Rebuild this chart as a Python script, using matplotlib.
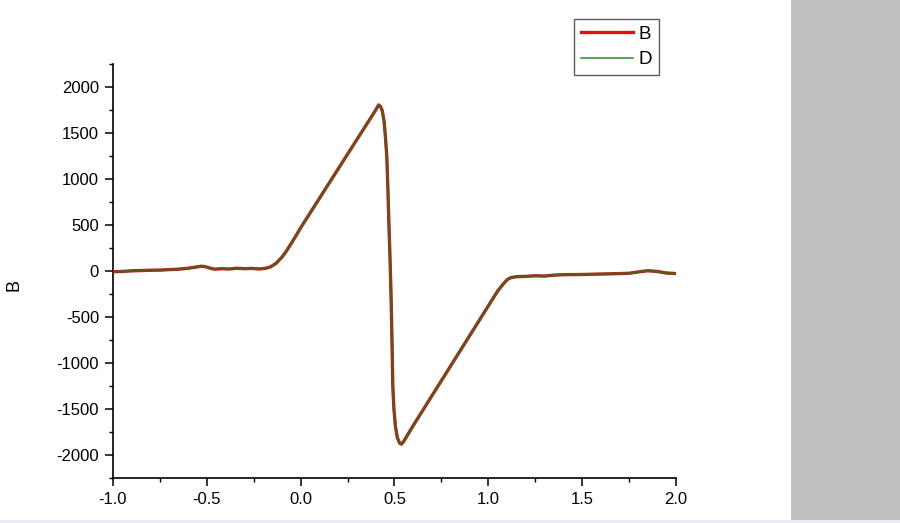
import matplotlib
matplotlib.use("Agg")
import matplotlib.pyplot as plt
from matplotlib.lines import Line2D
from matplotlib.patches import Rectangle
from matplotlib.ticker import MultipleLocator

plt.rcParams['font.family'] = ['Liberation Sans', 'DejaVu Sans']

x_values = [-1.00, -0.95, -0.90, -0.85, -0.80, -0.75, -0.70, -0.65, -0.60, -0.56,
            -0.53, -0.51, -0.49, -0.46, -0.42, -0.38, -0.34, -0.30, -0.26, -0.22,
            -0.19, -0.16, -0.13, -0.10, -0.08, -0.05, -0.02, 0.00, 0.05, 0.10,
            0.15, 0.20, 0.25, 0.30, 0.35, 0.38, 0.40, 0.415, 0.425, 0.435,
            0.445, 0.452, 0.459, 0.465, 0.470, 0.476, 0.482, 0.487, 0.491, 0.497,
            0.505, 0.515, 0.527, 0.537, 0.548, 0.56, 0.60, 0.65, 0.70, 0.75,
            0.80, 0.85, 0.90, 0.95, 1.00, 1.05, 1.08, 1.10, 1.12, 1.15,
            1.20, 1.25, 1.30, 1.35, 1.40, 1.50, 1.60, 1.70, 1.75, 1.80,
            1.85, 1.90, 1.95, 2.00]

b_values = [-8, -5, 2, 5, 8, 10, 15, 20, 30, 42,
            52, 48, 35, 20, 25, 22, 30, 25, 28, 22,
            28, 45, 85, 150, 205, 300, 400, 470, 630, 790,
            950, 1110, 1270, 1430, 1590, 1685, 1750, 1805, 1790, 1740,
            1620, 1450, 1245, 880, 520, 150, -300, -800, -1250, -1500,
            -1690, -1810, -1870, -1882, -1855, -1815, -1679, -1517, -1354, -1192,
            -1029, -867, -704, -542, -379, -217, -140, -95, -72, -62,
            -58, -52, -55, -45, -40, -38, -33, -28, -25, -10,
            3, -5, -22, -28]

d_values = list(b_values)

x_ticks = [-1.0, -0.5, 0.0, 0.5, 1.0, 1.5, 2.0]
y_ticks = [-2000, -1500, -1000, -500, 0, 500, 1000, 1500, 2000]

fig = plt.figure(figsize=(9.0, 5.23), dpi=100)
fig.patch.set_facecolor('white')

# right grey panel and bottom strip
fig.patches.append(Rectangle((791 / 900, 3 / 523), 1 - 791 / 900, 1 - 3 / 523,
                             transform=fig.transFigure, facecolor='#c0c0c0',
                             edgecolor='none', zorder=0))
fig.patches.append(Rectangle((0, 0), 1, 3 / 523, transform=fig.transFigure,
                             facecolor='#ececf6', edgecolor='none', zorder=0))

ax = fig.add_axes([113 / 900, 45 / 523, 563 / 900, 414 / 523])
ax.plot(x_values, b_values, color='#d8101a', lw=2.4, solid_capstyle='round', zorder=3)
ax.plot(x_values, d_values, color='#1f7a1f', lw=1.8, alpha=0.62, zorder=4)

ax.set_xlim(-1.0, 2.0)
ax.set_ylim(-2250, 2250)
ax.set_xticks(x_ticks)
ax.set_xticklabels([f"{v:.1f}" for v in x_ticks])
ax.set_yticks(y_ticks)
ax.set_yticklabels([str(v) for v in y_ticks])
ax.xaxis.set_minor_locator(MultipleLocator(0.25))
ax.yaxis.set_minor_locator(MultipleLocator(250))

for s in ['top', 'right']:
    ax.spines[s].set_visible(False)
for s in ['left', 'bottom']:
    ax.spines[s].set_linewidth(1.2)
    ax.spines[s].set_color('black')

ax.tick_params(which='major', direction='out', length=6, width=1.1,
               labelsize=12, pad=4, colors='black')
ax.tick_params(which='minor', direction='out', length=3, width=1.0)

ax.set_ylabel('B', fontsize=13)
ax.yaxis.set_label_coords((23 - 113) / 563, (523 - 285 - 45) / 414)

handles = [Line2D([], [], color='#e0101a', lw=2.4),
           Line2D([], [], color='#2a8a2a', lw=1.1)]
leg = fig.legend(handles, ['B', 'D'], loc='upper left',
                 bbox_to_anchor=(574 / 900, (523 - 19) / 523),
                 bbox_transform=fig.transFigure, fontsize=13.5,
                 frameon=True, fancybox=False, shadow=False,
                 handlelength=2.8, handletextpad=0.3, labelspacing=0.45,
                 borderpad=0.35, borderaxespad=0.0)
leg.get_frame().set_edgecolor('#333333')
leg.get_frame().set_linewidth(1.0)

fig.savefig('out.png', dpi=100)
